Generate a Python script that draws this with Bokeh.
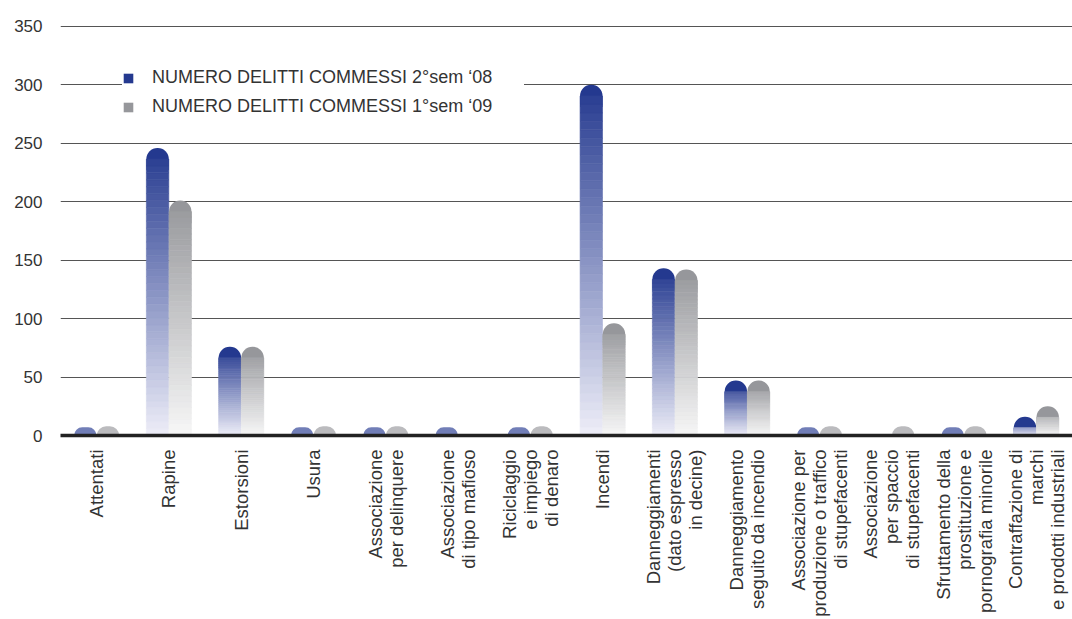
import math
from bokeh.plotting import figure
from bokeh.models import ColumnDataSource, FactorRange, Range1d, Legend, LegendItem, FixedTicker
from bokeh.transform import dodge
from bokeh.embed import file_html
from bokeh.resources import INLINE

categories = [
    "Attentati",
    "Rapine",
    "Estorsioni",
    "Usura",
    "Associazione\nper delinquere",
    "Associazione\ndi tipo mafioso",
    "Riciclaggio\ne impiego\ndi denaro",
    "Incendi",
    "Danneggiamenti\n(dato espresso\nin decine)",
    "Danneggiamento\nseguito da incendio",
    "Associazione per\nproduzione o traffico\ndi stupefacenti",
    "Associazione\nper spaccio\ndi stupefacenti",
    "Sfruttamento della\nprostituzione e\npornografia minorile",
    "Contraffazione di\nmarchi\ne prodotti industriali",
]
sem2_08 = [7, 246, 76, 7, 7, 7, 7, 300, 143, 47, 7, 0, 7, 16]
sem1_09 = [8, 201, 76, 8, 8, 0, 8, 96, 142, 47, 8, 8, 8, 25]
series_labels = ["NUMERO DELITTI COMMESSI 2°sem \u201808", "NUMERO DELITTI COMMESSI 1°sem \u201809"]
y_ticks = [0, 50, 100, 150, 200, 250, 300, 350]

FONT = "Liberation Sans"
TEXT = "#333333"
BLUE_TOP, BLUE_BOT = (36, 57, 143), (238, 238, 248)
GRAY_TOP, GRAY_BOT = (150, 151, 155), (247, 247, 247)
N_SLICES = 40
CAP = 9.5     # data units of the rounded cap
CAP_BODY = 19  # data units of the rounded base shape

p = figure(
    x_range=FactorRange(*categories, range_padding=0.0),
    y_range=Range1d(0, 355),
    width=1072, height=619,
    output_backend="svg", toolbar_location=None,
    min_border_left=60, min_border_right=0, min_border_top=20, min_border_bottom=183,
)
p.outline_line_color = None
p.background_fill_color = "white"
p.border_fill_color = "white"


def hexc(c):
    return "#%02x%02x%02x" % tuple(int(round(v)) for v in c)


def mix(a, b, t):
    return tuple(a[i] + (b[i] - a[i]) * t for i in range(3))


def build(values, top_c, bot_c):
    base = dict(x=[], top=[], bottom=[], color=[])
    sx, sb, st, sc = [], [], [], []
    for cat, v in zip(categories, values):
        if v <= 0:
            continue
        base["x"].append(cat)
        base["top"].append(v)
        base["bottom"].append(v - CAP_BODY)
        base["color"].append(hexc(top_c) if v > 12 else hexc(mix(bot_c, top_c, 0.62)))
        cut = v - CAP
        if cut <= 0:
            continue
        for k in range(N_SLICES):
            b = cut * k / N_SLICES
            t = cut * (k + 1) / N_SLICES
            frac = ((b + t) / 2) / v
            sx.append(cat)
            sb.append(b)
            st.append(t)
            sc.append(hexc(mix(bot_c, top_c, frac)))
    slices = dict(x=sx, bottom=sb, top=st, color=sc)
    return ColumnDataSource(base), ColumnDataSource(slices)


items = []
for vals, top_c, bot_c, off, lab in [
    (sem2_08, BLUE_TOP, BLUE_BOT, -0.157, series_labels[0]),
    (sem1_09, GRAY_TOP, GRAY_BOT, 0.157, series_labels[1]),
]:
    src_base, src_sl = build(vals, top_c, bot_c)
    r = p.vbar(x=dodge("x", off, range=p.x_range), top="top", bottom="bottom", width=0.31,
               source=src_base, fill_color="color", line_color=None,
               border_radius=(11, 11, 0, 0))
    p.vbar(x=dodge("x", off, range=p.x_range), top="top", bottom="bottom", width=0.31,
           source=src_sl, fill_color="color", line_color="color", line_width=0.6)
    tops = src_base.data["top"]
    items.append(LegendItem(label=lab, renderers=[r], index=tops.index(max(tops))))

# axes
p.yaxis.ticker = FixedTicker(ticks=y_ticks)
p.yaxis.axis_line_color = None
p.yaxis.major_tick_line_color = None
p.yaxis.major_tick_out = 0
p.yaxis.minor_tick_line_color = None
p.yaxis.major_label_text_font = FONT
p.yaxis.major_label_text_font_size = "17px"
p.yaxis.major_label_text_color = TEXT
p.yaxis.major_label_standoff = 18

p.xaxis.axis_line_color = "#222222"
p.xaxis.axis_line_width = 3.5
p.xaxis.major_tick_line_color = None
p.xaxis.major_tick_out = 0
p.xaxis.minor_tick_line_color = None
p.xaxis.major_label_orientation = math.pi / 2
p.xaxis.major_label_text_align = "left"
p.xaxis.major_label_text_font = FONT
p.xaxis.major_label_text_font_size = "18.5px"
p.xaxis.major_label_text_line_height = 1.0
p.xaxis.major_label_text_color = TEXT
p.xaxis.major_label_standoff = 14

p.xgrid.grid_line_color = None
p.ygrid.grid_line_color = "#555555"
p.ygrid.grid_line_width = 1

legend = Legend(
    items=items,
    location=(62, 318),
    orientation="vertical",
    background_fill_color="white", background_fill_alpha=1.0,
    border_line_color=None,
    glyph_width=12, glyph_height=12,
    label_text_font=FONT, label_text_font_size="18px", label_text_color=TEXT,
    label_standoff=18, spacing=8, padding=8, margin=0,
    label_height=20, label_width=372,
)
p.add_layout(legend, "center")

open("out.html", "w").write(file_html(p, INLINE))
